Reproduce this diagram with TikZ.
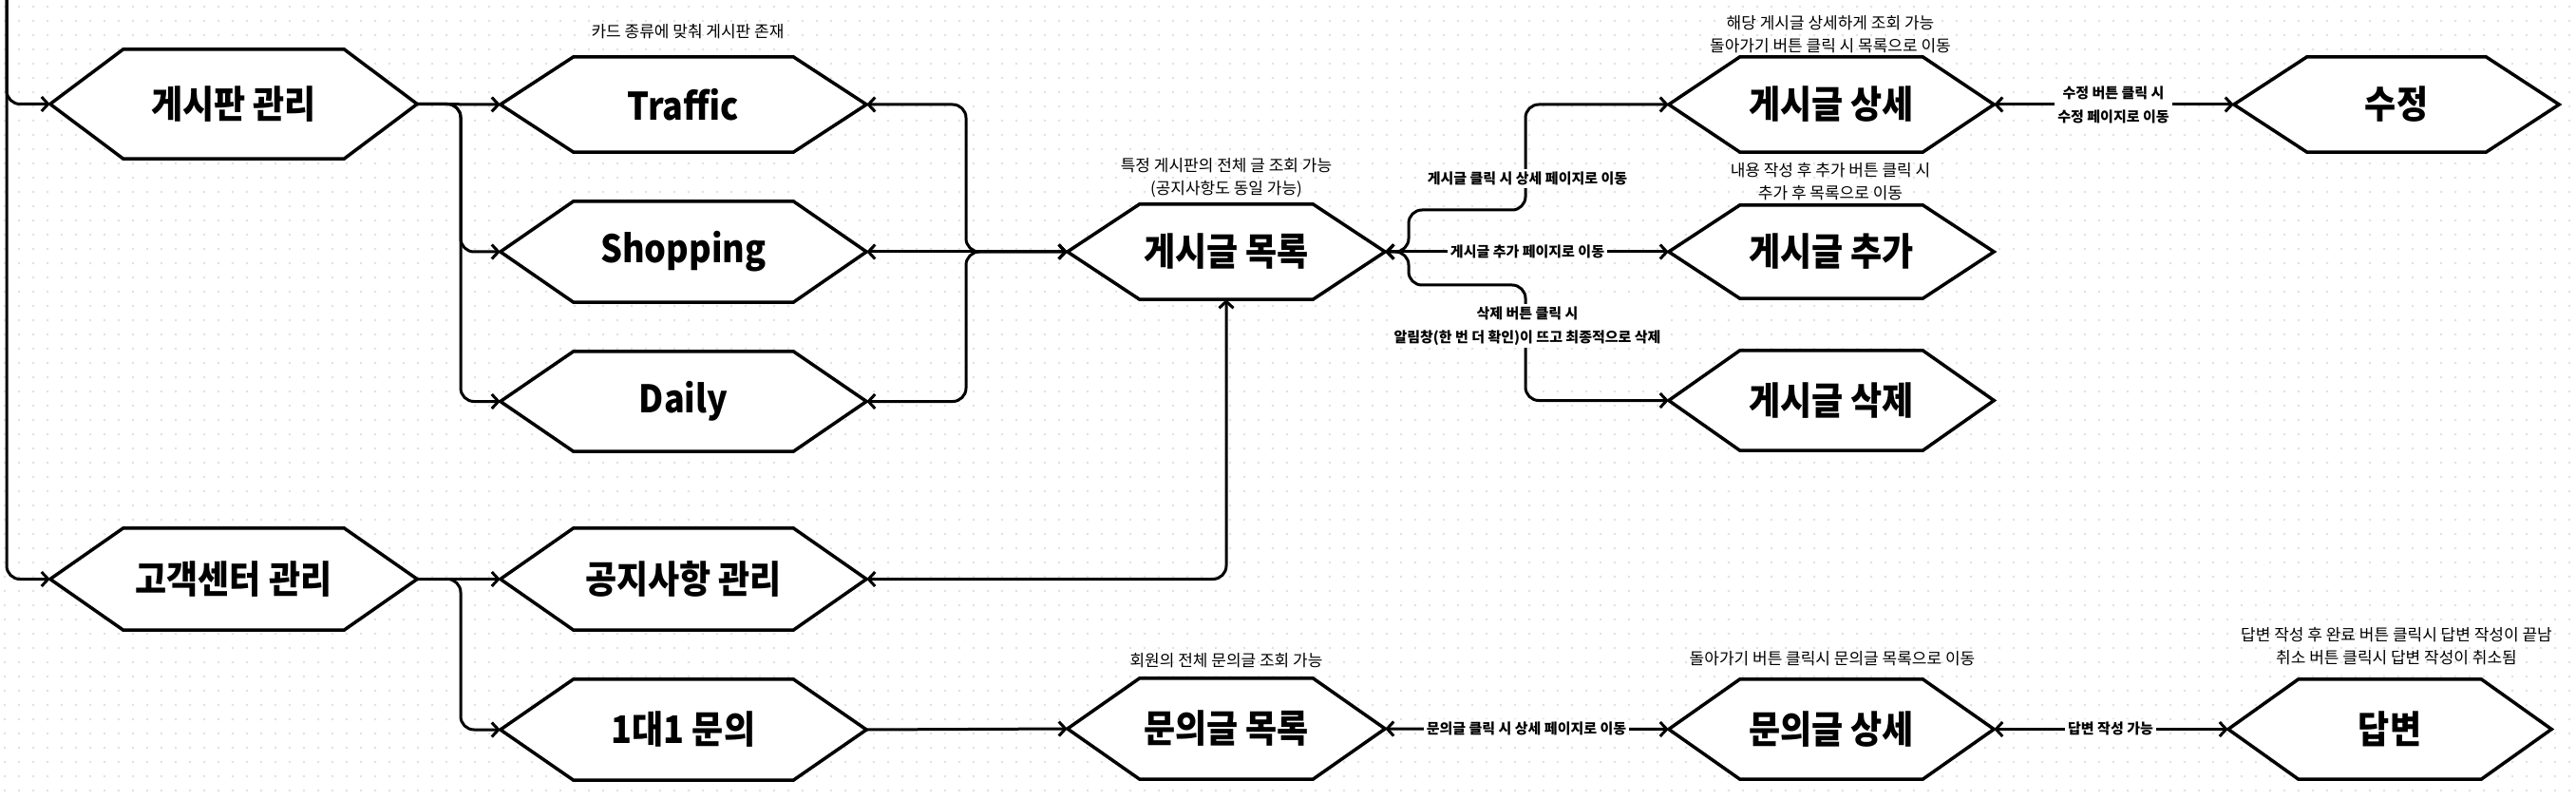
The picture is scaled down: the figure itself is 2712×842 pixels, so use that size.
\documentclass[tikz,border=0pt]{standalone}
\usepackage{fontspec}
\setmainfont{Noto Sans CJK KR}
\newfontfamily\nodefont{Noto Sans CJK KR}[FakeStretch=0.9]
\newfontfamily\lblfont{Noto Sans CJK KR}
\usetikzlibrary{arrows.meta,calc}
\pgfdeclarelayer{dots}
\pgfdeclarelayer{hexes}
\pgfsetlayers{dots,hexes,main}
\definecolor{dotc}{RGB}{222,222,232}
\tikzset{
  hexbox/.style={rectangle, inner sep=0pt, font=\nodefont\bfseries\fontsize{40}{48}\selectfont},
  hexline/.style={draw=black, fill=white, line width=3.5pt, line join=miter},
  conn/.style={draw=black, line width=3pt, rounded corners=14pt},
  tipR/.style={-{Straight Barb[length=7pt,width=15pt]}},
  biarrow/.style={{Straight Barb[length=7pt,width=15pt]}-{Straight Barb[length=7pt,width=15pt]}},
  note/.style={font=\fontsize{17}{24}\selectfont, align=center, inner sep=0pt},
  clabel/.style={font=\lblfont\bfseries\fontsize{15}{25}\selectfont, fill=white, align=center, inner sep=3pt},
  dotrow/.style={draw=dotc, line width=2.6pt, line cap=round, dash pattern=on 0pt off 15pt},
}
\newcommand\hexn[7]{%
  \node[hexbox, minimum width=#4pt, minimum height=#5pt] (#1) at (#2,#3) {#7};
  \begin{pgfonlayer}{hexes}
    \draw[hexline] (#1.west) -- ([xshift=#6pt]#1.north west) -- ([xshift=-#6pt]#1.north east)
      -- (#1.east) -- ([xshift=-#6pt]#1.south east) -- ([xshift=#6pt]#1.south west) -- cycle;
  \end{pgfonlayer}}
\begin{document}
\begin{tikzpicture}[x=1pt,y=-1pt]
\useasboundingbox (0,0) rectangle (2712,842);
\begin{pgfonlayer}{dots}
  \fill[white] (0,0) rectangle (2712,842);
  \foreach \j in {0,...,56}{\draw[dotrow] (5,\j*15+7) -- (2712,\j*15+7);}
\end{pgfonlayer}

% nodes
\hexn{gb}{246}{109.5}{386}{115}{77}{게시판 관리}
\hexn{cs}{246}{609.5}{386}{107}{77}{고객센터 관리}
\hexn{tr}{719.5}{110}{385}{100}{77}{Traffic}
\hexn{sh}{719.5}{265}{385}{106}{77}{Shopping}
\hexn{dl}{719.5}{422.5}{385}{105}{77}{Daily}
\hexn{nt}{719.5}{609.5}{385}{107}{77}{공지사항 관리}
\hexn{qa}{719.5}{768}{385}{106}{77}{1대1 문의}
\hexn{pl}{1291}{265}{334}{100}{76}{게시글 목록}
\hexn{ql}{1291}{767}{334}{106}{76}{문의글 목록}
\hexn{pd}{1928}{110}{342}{100}{75}{게시글 상세}
\hexn{pa}{1928}{265}{342}{98}{75}{게시글 추가}
\hexn{px}{1928}{421.5}{342}{105}{75}{게시글 삭제}
\hexn{ed}{2523}{110}{342}{100}{77}{수정}
\hexn{qd}{1928}{767.5}{342}{105}{75}{문의글 상세}
\hexn{an}{2516}{767.5}{340}{105}{74}{답변}

% annotations
\node[note] (n1) at (724,33) {카드 종류에 맞춰 게시판 존재};
\node[note] (n2) at (1291,187) {특정 게시판의 전체 글 조회 가능\\(공지사항도 동일 가능)};
\node[note] (n3) at (1927,36) {해당 게시글 상세하게 조회 가능\\돌아가기 버튼 클릭 시 목록으로 이동};
\node[note] (n4) at (1927,191) {내용 작성 후 추가 버튼 클릭 시\\추가 후 목록으로 이동};
\node[note] (n5) at (1291,695) {회원의 전체 문의글 조회 가능};
\node[note] (n6) at (1929,693) {돌아가기 버튼 클릭시 문의글 목록으로 이동};
\node[note] (n7) at (2523,680) {답변 작성 후 완료 버튼 클릭시 답변 작성이 끝남\\취소 버튼 클릭시 답변 작성이 취소됨};

% connectors
\coordinate (top) at (7,0);
\draw[conn,tipR] (top) |- (gb.west);
\draw[conn,tipR] (top) |- (cs.west);

\coordinate (bx1) at (485,109.5);
\draw[conn,tipR] (gb.east) -- (tr.west);
\draw[conn,tipR] (gb.east) -- (bx1) |- (sh.west);
\draw[conn,tipR] (gb.east) -- (bx1) |- (dl.west);

\coordinate (bx2) at (485,609.5);
\draw[conn,tipR] (cs.east) -- (nt.west);
\draw[conn,tipR] (cs.east) -- (bx2) |- (qa.west);

\coordinate (jl) at (1017,265);
\draw[conn,biarrow] (tr.east) -| (jl) -- (pl.west);
\draw[conn,biarrow] (sh.east) -- (pl.west);
\draw[conn,biarrow] (dl.east) -| (jl) -- (pl.west);

\draw[conn,biarrow] (pl.south) |- (nt.east);

\coordinate (jr) at (1483,265);
\coordinate (ju) at (1483,221);
\coordinate (jd) at (1483,300);
\draw[conn,biarrow] (pl.east) -- (jr) -- (ju) -- (1606,221) |- (pd.west);
\draw[conn,biarrow] (pl.east) -- (pa.west);
\draw[conn,biarrow] (pl.east) -- (jr) -- (jd) -- (1606,300) |- (px.west);

\draw[conn,biarrow] (pd.east) -- (ed.west);
\draw[conn,tipR] (qa.east) -- (ql.west);
\draw[conn,biarrow] (ql.east) -- (qd.west);
\draw[conn,biarrow] (qd.east) -- (an.west);

% connector labels
\node[clabel] (l1) at (1608,188) {게시글 클릭 시 상세 페이지로 이동};
\node[clabel] (l2) at (1608,265) {게시글 추가 페이지로 이동};
\node[clabel] (l3) at (1608,343) {삭제 버튼 클릭 시\\알림창(한 번 더 확인)이 뜨고 최종적으로 삭제};
\node[clabel] (l4) at (2225,110) {수정 버튼 클릭 시\\수정 페이지로 이동};
\node[clabel] (l5) at (1607,767) {문의글 클릭 시 상세 페이지로 이동};
\node[clabel] (l6) at (2222,767) {답변 작성 가능};
\end{tikzpicture}
\end{document}
